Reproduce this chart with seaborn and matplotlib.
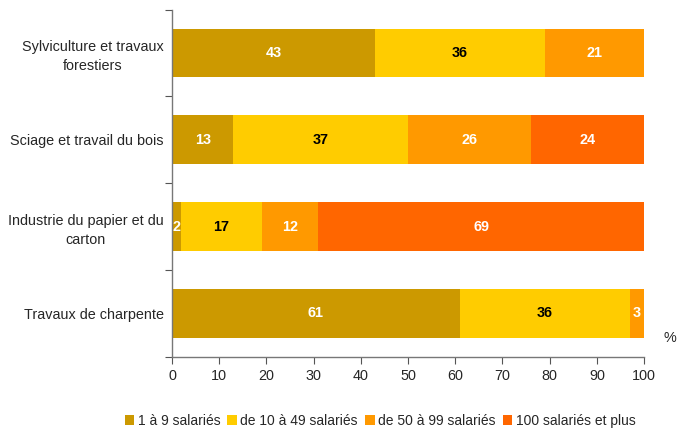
import numpy as np
import pandas as pd
import matplotlib
matplotlib.use("Agg")
import matplotlib.pyplot as plt
import seaborn as sns
from matplotlib.patches import Patch

# Données
secteurs = ["Sylviculture et travaux\nforestiers", "Sciage et travail du bois",
            "Industrie du papier et du\ncarton", "Travaux de charpente"]
tranches = ["1 à 9 salariés", "de 10 à 49 salariés", "de 50 à 99 salariés", "100 salariés et plus"]
v_1_9 = [43, 13, 2, 61]
v_10_49 = [36, 37, 17, 36]
v_50_99 = [21, 26, 12, 3]
v_100 = [0, 24, 69, 0]

couleurs = ["#CC9900", "#FFCC00", "#FF9900", "#FF6600"]
couleurs_texte = ["white", "black", "white", "white"]

series = [v_1_9, v_10_49, v_50_99, v_100]
valeurs = np.array(series, dtype=float)
cumul = valeurs.cumsum(axis=0)

sns.set_style("white")
plt.rcParams['font.family'] = ['Liberation Sans', 'DejaVu Sans']
fs = 10.4

fig, ax = plt.subplots(figsize=(6.81, 4.32), dpi=100)
fig.subplots_adjust(left=0.2526, right=0.9457, top=0.978, bottom=0.174)

# barres empilées : on dessine les cumuls du plus grand au plus petit
for i in range(3, -1, -1):
    df = pd.DataFrame({"secteur": secteurs, "cumul": cumul[i]})
    sns.barplot(data=df, x="cumul", y="secteur", orient="h", color=couleurs[i],
                saturation=1, width=0.56, ax=ax, edgecolor="none", linewidth=0)

# étiquettes
for i in range(4):
    for j in range(len(secteurs)):
        v = valeurs[i, j]
        if v <= 0:
            continue
        x = cumul[i, j] - v / 2
        ax.text(x, j, f"{int(v)}", ha="center", va="center", fontsize=fs,
                fontweight="bold", color=couleurs_texte[i])

ax.set_xlim(0, 100)
ax.set_ylim(3.5, -0.5)
ax.set_xticks(range(0, 101, 10))
ax.set_xlabel("")
ax.set_ylabel("")
ax.tick_params(axis="x", labelsize=fs, length=5, width=0.8, direction="out",
               bottom=True, color="#555555", pad=4)
ax.tick_params(axis="y", which="major", labelsize=fs, length=0, pad=6)
ax.set_yticks(np.arange(-0.5, 3.6, 1), minor=True)
ax.tick_params(axis="y", which="minor", length=5, width=0.8, left=True, color="#555555")
for lab in ax.get_yticklabels():
    lab.set_multialignment("center")
    lab.set_linespacing(1.45)

for s in ["top", "right"]:
    ax.spines[s].set_visible(False)
for s in ["left", "bottom"]:
    ax.spines[s].set_color("#777777")
    ax.spines[s].set_linewidth(1.0)

ax.text(1.055, 0.055, "%", transform=ax.transAxes, fontsize=fs, ha="center", va="center")

handles = [Patch(facecolor=c, edgecolor="none") for c in couleurs]
fig.legend(handles, tranches, loc="lower center", bbox_to_anchor=(0.558, -0.02), ncol=4,
           frameon=False, fontsize=10, handlelength=0.7, handleheight=0.7,
           handletextpad=0.25, columnspacing=0.5)

fig.savefig("out.png", dpi=100)
